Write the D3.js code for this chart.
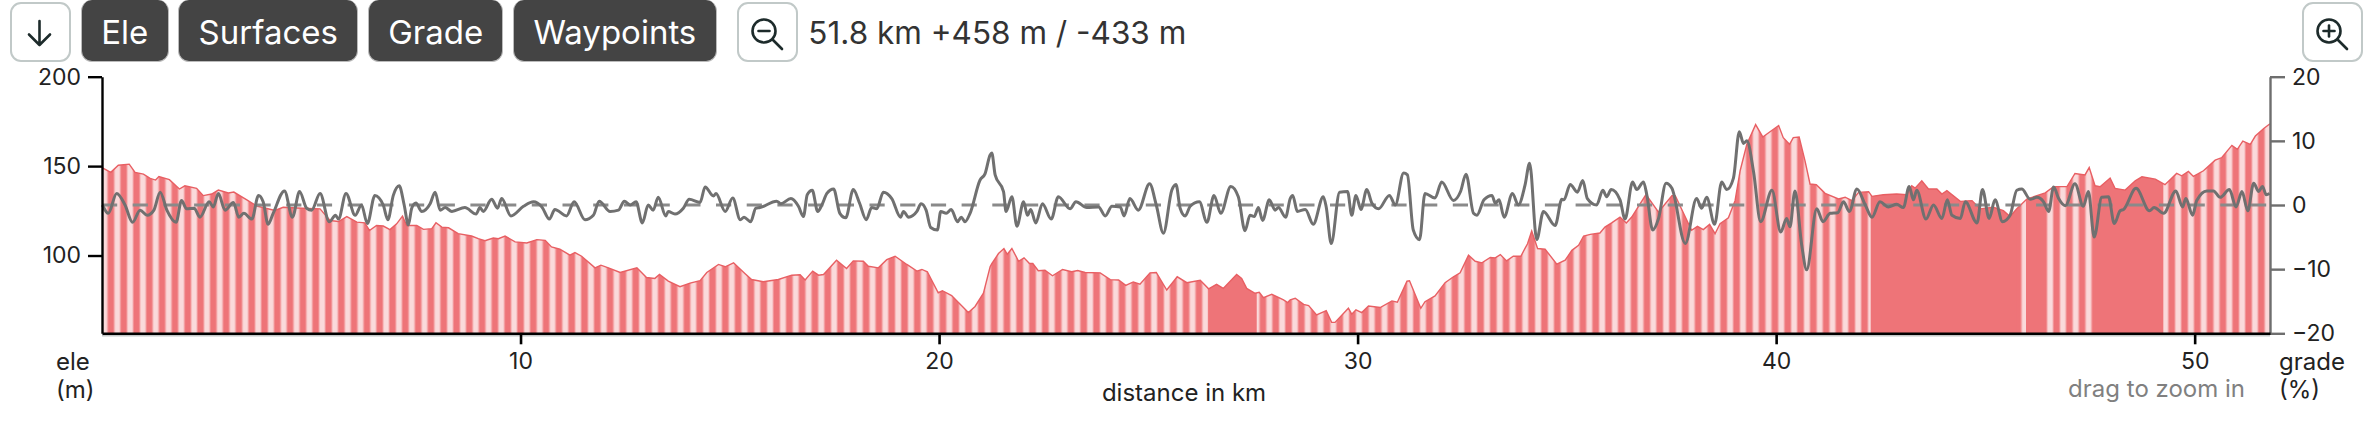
<!DOCTYPE html>
<html>
<head>
<meta charset="utf-8">
<script src="https://cdn.jsdelivr.net/npm/d3@7"></script>
<style>
  html, body { margin: 0; background: #fff; }
  body { width: 2374px; height: 424px; position: relative; overflow: hidden; font-family: Inter, sans-serif; }
  #toolbar { position: absolute; left: 10px; top: 0; width: 2353px; height: 62px; display: flex; align-items: center; }
  #toolbar .btn { height: 62px; box-sizing: border-box; border-radius: 11px; background: #444; color: #fff; font-size: 33px;
    line-height: 64px; padding: 0 19.25px; margin-right: 9.75px; white-space: nowrap; border: 1px solid #bbb; border-top: 0; }
  #toolbar .icon { width: 61px; height: 60px; box-sizing: border-box; border-radius: 11px; border: 2.5px solid #c1c9c8; background: #fff; margin-top: 2px; }
  #toolbar .info { font-size: 31.5px; color: #333; margin-left: 10px; white-space: nowrap; margin-top: 3px; }
  #toolbar svg { display: block; }
  #chart { position: absolute; left: 0; top: 0; }
  text { font-family: Inter, sans-serif; }
</style>
</head>
<body>
<div id="chart"></div>
<div id="toolbar"></div>
<script>
var chartWidth = 2374;
var chartHeight = 424;
var margin = {top: 76.7, right: 104, bottom: 90.7, left: 102};

var buttonLabels = ['Ele', 'Surfaces', 'Grade', 'Waypoints'];
var summaryText = '51.8 km +458 m / -433 m';

var eleTicks = [100, 150, 200];
var gradeTicks = [-20, -10, 0, 10, 20];
var distanceTicks = [10, 20, 30, 40, 50];

// km ranges where the surface fill is solid instead of striped
var solidStart = [26.43, 42.26, 45.97, 47.62];
var solidEnd = [27.59, 45.74, 46.35, 49.25];

var eleKm = [
  0, 0.21, 0.39, 0.65, 0.79, 0.99, 1.15, 1.28, 1.36, 1.61, 1.85, 1.98, 2.26, 2.42, 2.62, 2.78, 3.02, 3.15, 3.46, 3.7,
  4.13, 4.33, 4.65, 5.21, 5.45, 5.65, 5.85, 6.09, 6.28, 6.39, 6.56, 6.72, 6.88, 7.04, 7.18, 7.28, 7.52, 7.68, 7.88, 7.98,
  8.12, 8.28, 8.51, 8.83, 8.99, 9.15, 9.35, 9.47, 9.63, 9.87, 10.15, 10.39, 10.59, 10.74, 10.94, 11.18, 11.3, 11.46, 11.78, 11.92,
  12.1, 12.38, 12.78, 13.01, 13.21, 13.32, 13.53, 13.81, 14.05, 14.29, 14.45, 14.73, 14.89, 15.09, 15.36, 15.52, 15.8, 16.16, 16.48, 16.68,
  16.8, 16.98, 17.12, 17.24, 17.55, 17.79, 17.95, 18.19, 18.31, 18.55, 18.75, 18.95, 19.23, 19.47, 19.59, 19.72, 19.98, 20.08, 20.3, 20.7,
  20.86, 21.06, 21.22, 21.26, 21.42, 21.55, 21.63, 21.74, 21.9, 22.03, 22.16, 22.24, 22.37, 22.53, 22.71, 22.95, 23.17, 23.31, 23.49, 23.85,
  24.09, 24.29, 24.46, 24.64, 24.8, 25.04, 25.19, 25.44, 25.69, 25.92, 26.24, 26.44, 26.63, 26.79, 27.11, 27.23, 27.35, 27.55, 27.65, 27.75,
  27.95, 28.23, 28.33, 28.39, 28.51, 28.71, 28.83, 29.02, 29.25, 29.38, 29.46, 29.78, 29.86, 29.96, 30.1, 30.26, 30.54, 30.82, 30.95, 31.18,
  31.24, 31.51, 31.61, 31.85, 32.09, 32.29, 32.45, 32.65, 32.81, 32.97, 33.17, 33.29, 33.41, 33.56, 33.72, 33.9, 34.06, 34.16, 34.3, 34.48,
  34.76, 34.96, 35.12, 35.28, 35.4, 35.56, 35.79, 35.91, 36.07, 36.27, 36.42, 36.55, 36.89, 37.19, 37.51, 37.59, 37.83, 37.98, 38.12, 38.26,
  38.41, 38.54, 38.66, 38.86, 39.02, 39.14, 39.3, 39.51, 39.68, 40.06, 40.17, 40.32, 40.41, 40.55, 40.69, 40.81, 40.96, 41.17, 41.49, 41.65,
  41.81, 41.97, 42.21, 42.29, 42.56, 42.88, 43.12, 43.24, 43.32, 43.48, 43.64, 43.84, 43.96, 44.08, 44.4, 44.68, 44.87, 45.19, 45.43, 45.59,
  45.75, 45.99, 46.43, 46.63, 46.95, 47.14, 47.38, 47.48, 47.62, 47.74, 47.98, 48.1, 48.34, 48.58, 48.74, 49.06, 49.29, 49.57, 49.69, 49.85,
  49.97, 50.21, 50.49, 50.65, 50.89, 51.02, 51.15, 51.33, 51.45, 51.65, 51.8
];
var eleM = [
  149.2, 146.5, 150.5, 151.1, 146.5, 145.5, 143.1, 142.2, 144.2, 142.4, 137.2, 139, 137.6, 133.5, 134.4, 136.6, 135, 135.5, 131.1, 127.7,
  125.2, 127, 126.6, 126.1, 119.6, 119, 121.8, 118.7, 118.3, 114, 116.8, 116.5, 114.5, 117.7, 122, 116.8, 116.8, 114.6, 115, 118.3,
  115.9, 115.5, 112.2, 110.9, 109.4, 108.3, 109.8, 109.4, 110.9, 107.6, 107, 108.9, 108.5, 104.8, 103.5, 100.2, 101.6, 99.6, 93.1, 94.6,
  93.1, 90.5, 93.1, 87.7, 87.2, 89.4, 85.7, 82.6, 84.6, 85.9, 90.5, 95, 93.7, 95.9, 90, 86.6, 85.3, 86.6, 89, 89.2,
  86.3, 91.3, 89, 89.4, 97.4, 92.7, 97, 96.8, 94, 93.1, 97.7, 99.6, 95, 91.3, 92.2, 90.9, 79.2, 80.3, 77.6, 68.1,
  71.5, 78.9, 93.7, 95.5, 101.1, 103.9, 100.7, 103.9, 96.8, 98.7, 95.5, 95.5, 91.5, 91.8, 88.7, 92.2, 90.9, 91.6, 90.5, 90.3,
  86.5, 86.3, 83.3, 85.2, 84, 90.3, 90.5, 80.7, 88.1, 84.8, 86.1, 81.4, 83.9, 81.6, 89.4, 87.2, 81.6, 78.9, 79.4, 76.4,
  78.3, 75.2, 73.7, 75.2, 76.1, 72.7, 72, 66.8, 69.2, 62.6, 62.6, 70.5, 67.2, 69.6, 68.1, 71.8, 70.9, 74.6, 73.9, 85.7,
  85.9, 70.5, 74.2, 77.4, 84.8, 88.1, 90.3, 100.2, 96.8, 95.9, 98.9, 98.7, 100.5, 97, 99.6, 99.6, 106.6, 113.7, 103.9, 103.5,
  95.2, 97.4, 102.9, 105.7, 110.9, 111.8, 112.6, 115.9, 118.3, 121.5, 118.2, 121.5, 134.1, 124.3, 133.5, 133.5, 121.5, 114.1, 116.3, 114.5,
  117.4, 112.2, 117.8, 121.1, 130.8, 147.4, 162.2, 173.2, 166.3, 172.7, 165.9, 162.2, 165.9, 166.3, 152.9, 140, 139.6, 134.8, 131.6, 132.6,
  130.7, 135.3, 135.7, 133.1, 134, 134.4, 134, 139, 137.7, 141.8, 137.2, 137.2, 134.4, 136.3, 130.3, 130.7, 126.1, 127, 125.1, 121.8,
  126.1, 131.6, 135, 138.5, 138.5, 145.9, 145.1, 149.2, 139, 138.5, 143.3, 137.5, 136.6, 141.8, 144, 142.7, 139.6, 145.9, 144.6, 147,
  144.2, 147.4, 153.3, 154.8, 161.6, 159.4, 164, 162.2, 166.8, 171, 173.7
];

var gradeKm = [
  0.01, 0.15, 0.35, 0.55, 0.73, 0.91, 1.08, 1.24, 1.39, 1.55, 1.77, 1.9, 2.02, 2.2, 2.34, 2.56, 2.66, 2.78, 2.94, 3.14,
  3.27, 3.39, 3.58, 3.74, 3.85, 3.97, 4.09, 4.36, 4.55, 4.72, 4.89, 5.01, 5.21, 5.43, 5.58, 5.65, 5.83, 6.05, 6.2, 6.34,
  6.52, 6.72, 6.83, 6.96, 7.1, 7.22, 7.32, 7.4, 7.5, 7.64, 7.84, 7.96, 8.08, 8.2, 8.36, 8.67, 8.94, 9.03, 9.11, 9.31,
  9.45, 9.55, 9.77, 10.07, 10.31, 10.51, 10.69, 10.82, 11.1, 11.28, 11.54, 11.74, 11.88, 12.14, 12.34, 12.48, 12.62, 12.76, 12.91, 13.05,
  13.17, 13.29, 13.47, 13.53, 13.69, 13.89, 14.03, 14.29, 14.41, 14.61, 14.67, 14.89, 15.07, 15.25, 15.34, 15.5, 15.62, 15.72, 16.12, 16.22,
  16.46, 16.64, 16.76, 16.85, 16.97, 17.1, 17.2, 17.32, 17.48, 17.63, 17.77, 17.95, 18.1, 18.26, 18.39, 18.51, 18.67, 18.87, 19.08, 19.15,
  19.27, 19.47, 19.57, 19.69, 19.8, 19.96, 20.04, 20.17, 20.29, 20.44, 20.53, 20.62, 20.74, 20.98, 21.1, 21.22, 21.26, 21.34, 21.54, 21.6,
  21.74, 21.86, 22.02, 22.11, 22.19, 22.31, 22.47, 22.68, 22.85, 23.13, 23.27, 23.53, 23.81, 23.97, 24.13, 24.33, 24.42, 24.56, 24.76, 25.03,
  25.19, 25.36, 25.56, 25.66, 25.76, 25.88, 26, 26.22, 26.4, 26.57, 26.73, 26.97, 27.15, 27.31, 27.43, 27.53, 27.63, 27.73, 27.89, 28.03,
  28.11, 28.28, 28.39, 28.45, 28.56, 28.75, 28.94, 29.18, 29.25, 29.37, 29.57, 29.76, 29.86, 29.96, 30.08, 30.22, 30.34, 30.5, 30.76, 30.9,
  31.1, 31.19, 31.33, 31.48, 31.61, 31.85, 32.01, 32.29, 32.46, 32.59, 32.77, 32.85, 33.02, 33.21, 33.29, 33.38, 33.5, 33.7, 33.84, 34,
  34.11, 34.28, 34.44, 34.72, 34.88, 34.93, 35.08, 35.25, 35.38, 35.49, 35.71, 35.86, 35.95, 36.06, 36.27, 36.39, 36.57, 36.67, 36.83, 36.91,
  37.05, 37.19, 37.37, 37.51, 37.83, 38.1, 38.22, 38.34, 38.53, 38.7, 38.82, 38.98, 39.12, 39.22, 39.3, 39.46, 39.63, 39.9, 40.11, 40.25,
  40.33, 40.45, 40.61, 40.73, 40.97, 41.12, 41.29, 41.47, 41.61, 41.75, 41.93, 42.13, 42.29, 42.48, 42.68, 42.88, 43.04, 43.18, 43.28, 43.36,
  43.58, 43.76, 43.96, 44.09, 44.2, 44.4, 44.52, 44.8, 44.93, 45.09, 45.23, 45.41, 45.59, 45.75, 45.87, 46.07, 46.23, 46.39, 46.51, 46.63,
  46.75, 46.91, 47.14, 47.34, 47.46, 47.6, 47.78, 47.94, 48.08, 48.22, 48.3, 48.6, 48.92, 49.03, 49.26, 49.55, 49.71, 49.79, 49.95, 50.05,
  50.29, 50.45, 50.61, 50.83, 50.99, 51.13, 51.27, 51.41, 51.53, 51.62, 51.71, 51.79
];
var gradePct = [
  0, -1.3, 1.8, 0, -2.7, -0.8, -1.6, -0.8, 2, -0.8, -2.7, 0.7, -0.6, -0.5, -1.9, 0.5, -0.3, 1.8, -0.8, 0.4,
  -1.9, -1.3, -2.2, 1.5, 0.5, -3, -1.3, 2.2, -1.9, 2.1, -0.5, -0.8, 1.8, -2.6, -1.6, -2.2, 1.8, -1.6, 0, -2.9,
  1.5, 0, -2.3, 1.5, 3, 0, -3.1, -0.5, 0.3, -1, 0.2, 2, -0.8, -0.4, -1, -0.4, -1.4, -0.4, -1, 0.9,
  -0.5, 1, -1.7, -0.2, 0.5, -0.3, -2.2, -0.7, -1.7, 0.5, -2.3, -1.6, 0.6, -1, -0.8, 0.6, 0, 0.5, -2.8, 0,
  -0.8, 1.2, -1.7, -1, -1.4, -0.5, 0.9, 0.4, 2.8, 1.4, 1.8, -1, 1.1, -2.3, -1.9, -2.6, -0.5, -0.4, 0.6, 0.2,
  1, -0.2, -1.8, 1.6, 2.3, -1, 0, 1.8, 2.5, -1.3, -2, 2.4, 0.3, -2.3, -0.4, -0.6, 2, 1, -1.9, -1,
  -1.9, -1, 0.2, -0.8, -3.5, -3.9, -1, -1.3, -0.7, -2.6, -1.9, -2.6, -1.3, 3.9, 4.9, 7.8, 8.1, 4.7, 2.1, -1,
  1.3, -3.3, 0.5, -1.6, -0.7, -2.8, 0.2, -2.2, 1.3, -0.6, 0.5, -0.4, -0.3, -1.7, -0.2, -0.3, -1.7, 1, -0.8, 3.3,
  0, -4.4, 2.3, 3.2, -0.5, -1.7, -0.2, 0.5, -2.7, 1.5, -1.3, 2.9, 1.3, -4, -1.6, -1.8, -0.4, -2.4, 0.8, -0.8,
  -0.4, -1.9, 1, 1.5, -1, -0.7, -3, 1.3, -0.3, -6, 2, 2.1, -1.6, 1.5, -0.7, 2.4, 0.3, -0.6, 1.5, 0,
  5, 4.7, -3.9, -5.4, 1.8, 1.1, 3.6, 0.7, 2.1, 4.8, -1.3, -1.6, 0.8, 1.5, 0.3, 0.8, -1.9, 1.8, 0, 3.1,
  6.5, -5.4, -1, -3.2, 0.9, 0.8, 3.2, 2, 3.8, 1, 0, 2.3, 1.3, 2.4, 0.8, -2.2, 3.6, 2.4, 3.6, 1.6,
  -3.9, -2.1, 3.4, 2.6, -6, 1, -0.5, 1.2, -3, 3.6, 2.4, 4.2, 11.4, 9.6, 10, 5.2, -2.6, 2.3, -4.2, -2.1,
  -3.4, 2.2, -6.2, -10.1, -0.6, -2.6, -1.3, -1.2, 0.5, -1, 2.5, 0, -1.9, 0.5, -0.3, 0.1, -0.4, 2.9, 0.8, 2.3,
  -2.2, 0, -2.1, 0.8, -1.6, -2.1, 0.5, -2.8, 2.4, -2.1, 0.8, -2.6, -1.6, 2.3, 2.5, 0.9, 1.2, 0.5, -1, 2.8,
  1, -0.1, 3.3, -0.2, 2.1, -5, 1.2, 1.3, -2.9, -0.9, -0.7, 2.6, -0.9, -0.4, -1.3, 2.2, -0.3, 1, -1.6, 0.7,
  2.2, 2.2, 1.2, 2.4, -0.3, 2.1, -0.9, 3.4, 2.1, 2.9, 1.6, 1.8
];

var eleData = eleKm.map(function(km, i) { return {km: km, ele: eleM[i]}; });
var gradeData = gradeKm.map(function(km, i) { return {km: km, grade: gradePct[i]}; });

var plotBottom = chartHeight - margin.bottom;
var plotRight = chartWidth - margin.right;

// Toolbar
var toolbar = d3.select('#toolbar');

function iconButton(parent) {
  return parent.append('div').attr('class', 'icon')
      .append('svg').attr('width', 56).attr('height', 55)
      .append('g')
      .attr('fill', 'none')
      .attr('stroke', '#1d2b2b')
      .attr('stroke-width', 2.6)
      .attr('stroke-linecap', 'round')
      .attr('stroke-linejoin', 'round');
}

function lens(g, plus) {
  g.append('circle').attr('cx', 25).attr('cy', 27).attr('r', 11.5);
  g.append('path').attr('d', 'M33.5 35.5L43 45');
  g.append('path').attr('d', 'M19.5 27H30.5');
  if (plus) g.append('path').attr('d', 'M25 21.5V32.5');
}

var arrow = iconButton(toolbar);
arrow.append('path').attr('d', 'M27.5 17V41M17 30.5L27.5 41L38 30.5');
toolbar.select('.icon').style('margin-right', '10px');

toolbar.selectAll('.btn')
    .data(buttonLabels)
    .enter()
    .append('div')
    .attr('class', 'btn')
    .text(function(d) { return d; });

lens(iconButton(toolbar).call(function() {
  toolbar.selectAll('.icon').filter(function(d, i) { return i === 1; }).style('margin-left', '11px');
}), false);

toolbar.append('div').attr('class', 'info').text(summaryText);

toolbar.append('div').style('flex', '1');
lens(iconButton(toolbar), true);

// Create SVG Element
var svg = d3.select('#chart')
    .append('svg')
    .attr('width', chartWidth)
    .attr('height', chartHeight);

var defs = svg.append('defs');

var glow = defs.append('linearGradient').attr('id', 'stripeGlow');
glow.append('stop').attr('offset', '0%').attr('stop-color', '#ee7478');
glow.append('stop').attr('offset', '25%').attr('stop-color', '#fadadb');
glow.append('stop').attr('offset', '75%').attr('stop-color', '#fadadb');
glow.append('stop').attr('offset', '100%').attr('stop-color', '#ee7478');

var stripes = defs.append('pattern')
    .attr('id', 'stripes')
    .attr('patternUnits', 'userSpaceOnUse')
    .attr('x', 113.3)
    .attr('y', 0)
    .attr('width', 12.8)
    .attr('height', 10);
stripes.append('rect').attr('width', 12.8).attr('height', 10).attr('fill', '#ee7478');
stripes.append('rect').attr('width', 8).attr('height', 10).attr('fill', 'url(#stripeGlow)');

// Create Scales
var scaleX = d3.scaleLinear()
    .domain([0, 51.8])
    .range([margin.left, plotRight]);

var scaleEle = d3.scaleLinear()
    .domain([56.5, 200])
    .range([plotBottom, margin.top]);

var scaleGrade = d3.scaleLinear()
    .domain([-20, 20])
    .range([plotBottom, margin.top]);

var area = d3.area()
    .x(function(d) { return scaleX(d.km); })
    .y0(plotBottom)
    .y1(function(d) { return scaleEle(d.ele); })
    .curve(d3.curveLinear);

var eleLine = d3.line()
    .x(function(d) { return scaleX(d.km); })
    .y(function(d) { return scaleEle(d.ele); })
    .curve(d3.curveLinear);

var gradeLine = d3.line()
    .x(function(d) { return scaleX(d.km); })
    .y(function(d) { return scaleGrade(d.grade); })
    .curve(d3.curveMonotoneX);

// Clip for the solid surface sections
var solidClip = defs.append('clipPath').attr('id', 'solidClip');
solidClip.selectAll('rect')
    .data(solidStart)
    .enter()
    .append('rect')
    .attr('x', function(d) { return scaleX(d); })
    .attr('y', margin.top)
    .attr('width', function(d, i) { return scaleX(solidEnd[i]) - scaleX(d); })
    .attr('height', plotBottom - margin.top);

// Elevation
svg.append('path')
    .datum(eleData)
    .attr('d', area)
    .attr('fill', 'url(#stripes)');

svg.append('path')
    .datum(eleData)
    .attr('d', area)
    .attr('fill', '#ee7478')
    .attr('clip-path', 'url(#solidClip)');

svg.append('path')
    .datum(eleData)
    .attr('d', eleLine)
    .attr('fill', 'none')
    .attr('stroke', '#e85f63')
    .attr('stroke-width', 1.4);

// Zero line of the grade axis
svg.append('line')
    .attr('x1', scaleX(0))
    .attr('x2', plotRight)
    .attr('y1', scaleGrade(0))
    .attr('y2', scaleGrade(0))
    .attr('stroke', '#8a8a8a')
    .attr('stroke-width', 2.8)
    .attr('stroke-dasharray', '15.2 15.5');

// Grade
svg.append('path')
    .datum(gradeData)
    .attr('d', gradeLine)
    .attr('fill', 'none')
    .attr('stroke', '#707070')
    .attr('stroke-width', 3)
    .attr('stroke-linejoin', 'round');

// Axes
var axisLeft = d3.axisLeft(scaleEle)
    .tickValues(eleTicks)
    .tickSize(14)
    .tickSizeOuter(0)
    .tickPadding(7);

var axisRight = d3.axisRight(scaleGrade)
    .tickValues(gradeTicks)
    .tickSize(15)
    .tickSizeOuter(0)
    .tickPadding(7);

var axisBottom = d3.axisBottom(scaleX)
    .tickValues(distanceTicks)
    .tickSize(11)
    .tickSizeOuter(0)
    .tickPadding(8);

// grey shadow under the baseline
svg.append('line')
    .attr('x1', scaleX(0))
    .attr('x2', plotRight)
    .attr('y1', plotBottom + 2.2)
    .attr('y2', plotBottom + 2.2)
    .attr('stroke', '#c4c8c8')
    .attr('stroke-width', 2);

var gLeft = svg.append('g')
    .attr('transform', 'translate(' + margin.left + ',0)')
    .call(axisLeft);
gLeft.selectAll('path, line').attr('stroke', '#000').attr('stroke-width', 2.4);

var gRight = svg.append('g')
    .attr('transform', 'translate(' + plotRight + ',0)')
    .call(axisRight);
gRight.selectAll('path, line').attr('stroke', '#6e6e6e').attr('stroke-width', 2.4);

var gBottom = svg.append('g')
    .attr('transform', 'translate(0,' + plotBottom + ')')
    .call(axisBottom);
gBottom.selectAll('path, line').attr('stroke', '#000').attr('stroke-width', 2.6);

svg.selectAll('.tick text')
    .attr('fill', '#222')
    .style('font-size', '23px')
    .style('font-family', 'Inter, sans-serif');

// Axis titles
function label(x, y, text, color, anchor) {
  svg.append('text')
      .attr('x', x)
      .attr('y', y)
      .attr('fill', color || '#222')
      .attr('text-anchor', anchor || 'start')
      .style('font-size', '24px')
      .text(text);
}

label(56, 370, 'ele');
label(56, 398, '(m)');
label(2279, 370, 'grade');
label(2279, 398, '(%)');
label(1184, 401, 'distance in km', '#222', 'middle');
label(2245, 397, 'drag to zoom in', '#808080', 'end');
</script>
</body>
</html>
